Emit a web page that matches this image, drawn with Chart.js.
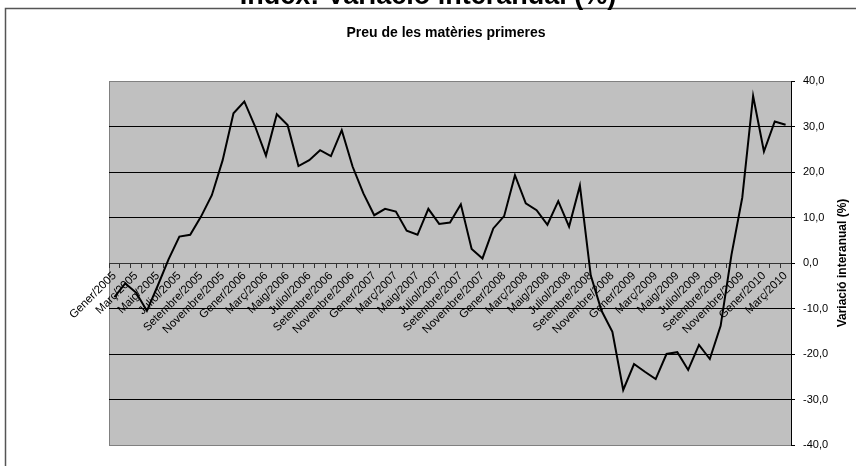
<!DOCTYPE html>
<html>
<head>
<meta charset="UTF-8">
<title>Preu de les matèries primeres</title>
<script src="https://cdn.jsdelivr.net/npm/chart.js"></script>
<style>
	body { margin: 0; background: #fff; }
	#container { width: 856px; height: 466px; }
</style>
</head>
<body>
<div id="container">
	<canvas id="linecanvas" width="856" height="466"></canvas>
</div>
<script>

// mesos i anys de l'eix X (gener 2005 - març 2010)
var MONTHS = ['Gener', 'Febrer', 'Març', 'Abril', 'Maig', 'Juny', 'Juliol', 'Agost', 'Setembre', 'Octubre', 'Novembre', 'Desembre'];
var YEARS = [2005, 2006, 2007, 2008, 2009, 2010];
var LAST_MONTHS_2010 = 3;

// variació interanual (%)
var variacio = [
	-7.5, -4.5, -6.5, -10.5, -5.0, 0.8, 5.8, 6.2, 10.2, 14.9, 22.6, 32.9,
	35.5, 30.0, 23.6, 32.7, 30.3, 21.3, 22.6, 24.8, 23.5, 29.2, 21.2, 15.3,
	10.5, 11.9, 11.3, 7.1, 6.2, 11.9, 8.6, 8.9, 12.9, 3.1, 1.0, 7.6,
	10.3, 19.3, 13.1, 11.6, 8.4, 13.6, 8.0, 17.0, -2.7, -10.5, -15.1, -27.9,
	-22.2, -23.9, -25.5, -20.0, -19.6, -23.5, -18.0, -21.1, -13.8, 1.8, 14.4, 36.7,
	24.5, 31.1, 30.4
];

var Y_MIN = -40, Y_MAX = 40, Y_STEP = 10;

var labels = [];
YEARS.forEach(function(year) {
	var n = (year === 2010) ? LAST_MONTHS_2010 : 12;
	for (var m = 0; m < n; m++) {
		labels.push(MONTHS[m] + '/' + year);
	}
});

var FONT = '"Liberation Sans", Arial, sans-serif';
Chart.defaults.font.family = FONT;
Chart.defaults.color = '#000';

// fons, marc i textos que Chart.js no col·loca com l'original
var decoPlugin = {
	id: 'deco',
	beforeDraw: function(chart) {
		var ctx = chart.ctx;
		var a = chart.chartArea;
		ctx.save();
		ctx.fillStyle = '#fff';
		ctx.fillRect(0, 0, chart.width, chart.height);
		// marc exterior
		ctx.strokeStyle = '#555';
		ctx.lineWidth = 1.5;
		ctx.beginPath();
		ctx.moveTo(chart.width, 8.5);
		ctx.lineTo(5.5, 8.5);
		ctx.lineTo(5.5, chart.height);
		ctx.stroke();
		// area del grafic
		ctx.fillStyle = '#c0c0c0';
		ctx.fillRect(a.left, a.top, a.right - a.left, a.bottom - a.top);
		ctx.strokeStyle = '#808080';
		ctx.lineWidth = 1;
		ctx.beginPath();
		ctx.moveTo(a.left + 0.5, a.top);
		ctx.lineTo(a.left + 0.5, a.bottom);
		ctx.stroke();
		ctx.restore();
	},
	afterDraw: function(chart) {
		var ctx = chart.ctx;
		var a = chart.chartArea;
		ctx.save();
		ctx.fillStyle = '#000';
		ctx.textAlign = 'center';
		ctx.textBaseline = 'alphabetic';
		ctx.font = 'bold 27px ' + FONT;
		ctx.fillText('Índex: Variació interanual (%)', 428, 4);
		ctx.textBaseline = 'middle';
		ctx.font = 'bold 14px ' + FONT;
		ctx.fillText('Preu de les matèries primeres', 446, 33);
		ctx.font = 'bold 12px ' + FONT;
		ctx.translate(843, (a.top + a.bottom) / 2);
		ctx.rotate(-Math.PI / 2);
		ctx.fillText('Variació interanual (%)', 0, 0);
		ctx.restore();
	}
};

window.onload = function() {
	var ctx = document.getElementById('linecanvas').getContext('2d');
	window.myLine = new Chart(ctx, {
		type: 'line',
		data: {
			labels: labels,
			datasets: [{
				label: 'Variació interanual (%)',
				data: variacio,
				borderColor: '#000',
				borderWidth: 2,
				pointRadius: 0,
				tension: 0,
				fill: false
			}]
		},
		options: {
			responsive: false,
			animation: false,
			layout: { padding: { left: 109, top: 81, right: 0, bottom: 21 } },
			plugins: {
				legend: { display: false },
				tooltip: { enabled: false },
				title: { display: false }
			},
			scales: {
				x: {
					position: { y: 0 },
					offset: true,
					grid: {
						offset: true,
						drawOnChartArea: false,
						drawTicks: true,
						tickLength: 4,
						tickColor: '#333'
					},
					border: { color: '#333', width: 1 },
					ticks: {
						autoSkip: false,
						maxRotation: 45,
						minRotation: 45,
						padding: 2,
						font: { size: 11.5 },
						color: '#000',
						callback: function(value, index) {
							return index % 2 === 0 ? this.getLabelForValue(value) : '';
						}
					}
				},
				y: {
					position: 'right',
					min: Y_MIN,
					max: Y_MAX,
					afterFit: function(scale) { scale.width = 65; },
					grid: {
						color: function(c) {
							var v = c.tick ? c.tick.value : 0;
							return (v === Y_MIN || v === Y_MAX) ? '#808080' : '#000';
						},
						tickColor: '#000',
						tickLength: 4
					},
					border: { color: '#000', width: 1 },
					ticks: {
						stepSize: Y_STEP,
						padding: 8,
						font: { size: 11 },
						color: '#000',
						callback: function(v) { return v.toFixed(1).replace('.', ','); }
					}
				}
			}
		},
		plugins: [decoPlugin]
	});
};
</script>
</body>
</html>
